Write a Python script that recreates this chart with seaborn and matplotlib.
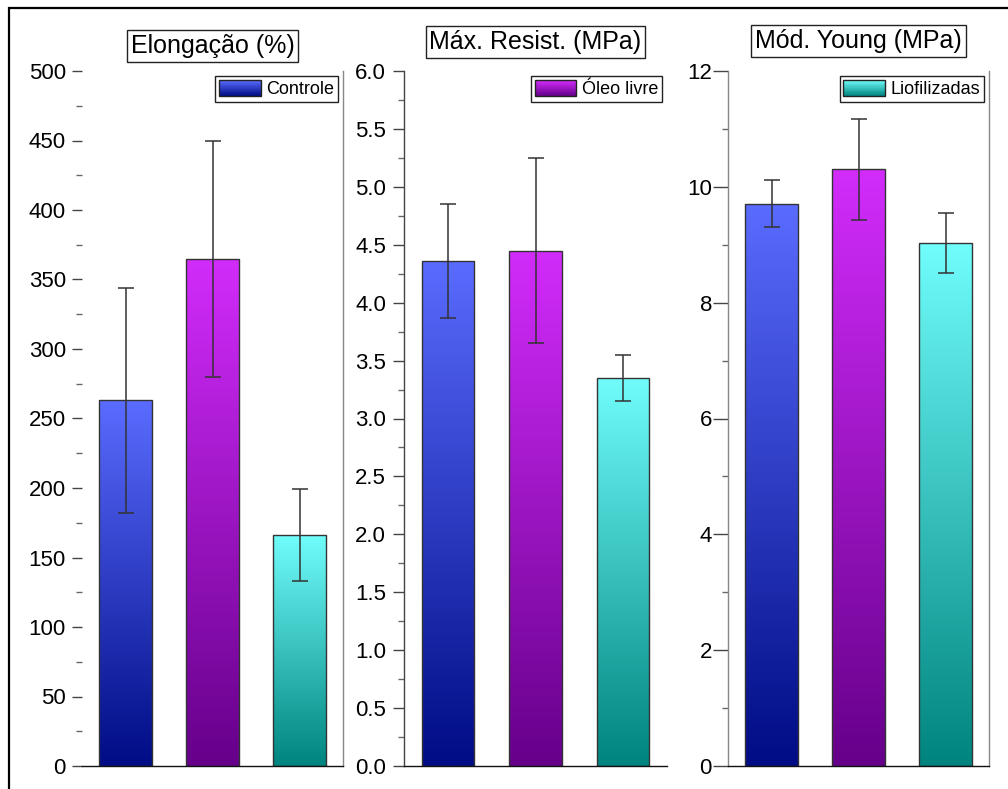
import numpy as np
import pandas as pd
import matplotlib
matplotlib.use("Agg")
import matplotlib.pyplot as plt
import seaborn as sns
from matplotlib.colors import LinearSegmentedColormap
from matplotlib.patches import Rectangle
from matplotlib.legend_handler import HandlerBase
from matplotlib.ticker import MultipleLocator, FormatStrFormatter

# ---- data ----
groups = ["Controle", "Óleo livre", "Liofilizadas"]
elong_mean = [263, 365, 166]
elong_err = [81, 85, 33]
resist_mean = [4.36, 4.45, 3.35]
resist_err = [0.49, 0.80, 0.20]
young_mean = [9.71, 10.30, 9.03]
young_err = [0.41, 0.87, 0.51]
titles = ["Elongação (%)", "Máx. Resist. (MPa)", "Mód. Young (MPa)"]
ylims = [(0, 500), (0, 6.0), (0, 12)]
major_steps = [50, 0.5, 2]
minor_steps = [25, 0.25, 1]

top_colors = ["#5a6cff", "#d22cfb", "#70fdfb"]
bottom_colors = ["#000c85", "#66008a", "#00847f"]

sns.set_style("white")
plt.rcParams["font.family"] = ["Liberation Sans", "DejaVu Sans"]
plt.rcParams["text.color"] = "black"
plt.rcParams["ytick.labelcolor"] = "black"

W, H = 1008, 789
fig = plt.figure(figsize=(W / 100, H / 100), dpi=100)

# axes geometry in pixels
ax_top, ax_bot = 71, 766
lefts = [82, 404, 728]
widths = [261, 263, 261]
title_y = [46, 42, 41]
major_len = [10, 11, 15]
label_pad = [6, 7, 1]


class GradientHandler(HandlerBase):
    def __init__(self, top, bottom, n=30):
        super().__init__()
        self.top, self.bottom, self.n = top, bottom, n

    def create_artists(self, legend, orig_handle, xdescent, ydescent,
                       width, height, fontsize, trans):
        cmap = LinearSegmentedColormap.from_list("g", [self.bottom, self.top])
        arts = []
        for i in range(self.n):
            r = Rectangle((-xdescent, -ydescent + height * i / self.n), width,
                          height / self.n * 1.05,
                          facecolor=cmap(i / (self.n - 1)), edgecolor="none",
                          transform=trans)
            arts.append(r)
        arts.append(Rectangle((-xdescent, -ydescent), width, height,
                              facecolor="none", edgecolor="#222222", lw=1,
                              transform=trans))
        return arts


means = [elong_mean, resist_mean, young_mean]
errs = [elong_err, resist_err, young_err]

for k in range(3):
    ax = fig.add_axes([lefts[k] / W, 1 - ax_bot / H, widths[k] / W,
                       (ax_bot - ax_top) / H])
    df = pd.DataFrame({"grupo": groups, "valor": means[k]})
    sns.barplot(data=df, x="grupo", y="valor", hue="grupo",
                palette=top_colors, saturation=1, width=0.6, legend=False,
                edgecolor="#333333", linewidth=1, ax=ax, errorbar=None)
    ax.set_xlim(-0.5, 2.5)
    ax.set_ylim(*ylims[k])

    # gradient fill
    for i, patch in enumerate(ax.patches):
        bb = patch.get_bbox()
        cmap = LinearSegmentedColormap.from_list(
            "g%d" % i, [bottom_colors[i], top_colors[i]])
        grad = np.linspace(0, 1, 256).reshape(-1, 1)
        im = ax.imshow(grad, extent=[bb.x0, bb.x1, bb.y0, bb.y1],
                       origin="lower", aspect="auto", cmap=cmap,
                       zorder=patch.get_zorder() + 0.01)
        im.set_clip_path(patch)
        patch.set_facecolor("none")
        patch.set_zorder(patch.get_zorder() + 0.02)
    ax.set_xlim(-0.5, 2.5)
    ax.set_ylim(*ylims[k])

    ax.errorbar(np.arange(3), means[k], yerr=errs[k], fmt="none",
                ecolor="#333333", elinewidth=1.1, capsize=5.5, capthick=1.1,
                zorder=5)

    ax.set_xlabel("")
    ax.set_ylabel("")
    ax.set_xticks([])
    ax.yaxis.set_major_locator(MultipleLocator(major_steps[k]))
    ax.yaxis.set_minor_locator(MultipleLocator(minor_steps[k]))
    ax.yaxis.set_major_formatter(FormatStrFormatter("%.1f" if k == 1 else "%d"))
    ax.tick_params(axis="y", which="major", direction="out",
                   length=major_len[k] * 0.72, width=1, color="#444444",
                   labelsize=16, labelcolor="black",
                   pad=label_pad[k] * 0.72, left=True)
    ax.tick_params(axis="y", which="minor", direction="out", length=4.5,
                   width=1, color="#666666", left=True)

    for s in ax.spines.values():
        s.set_linewidth(1)
    ax.spines["top"].set_visible(False)
    ax.spines["bottom"].set_color("#111111")
    if k == 0:
        ax.spines["left"].set_visible(False)
        ax.spines["right"].set_color("#888888")
    elif k == 1:
        ax.spines["left"].set_color("#444444")
        ax.spines["right"].set_visible(False)
    else:
        ax.spines["left"].set_color("#888888")
        ax.spines["right"].set_color("#888888")

    proxy = Rectangle((0, 0), 1, 1)
    leg = ax.legend([proxy], [groups[k]], loc="upper right",
                    handler_map={proxy: GradientHandler(top_colors[k], bottom_colors[k])},
                    fontsize=13, frameon=True, fancybox=False, framealpha=1,
                    borderpad=0.2, handlelength=2.3, handleheight=1.0,
                    handletextpad=0.3, borderaxespad=0.3)
    leg.get_frame().set_edgecolor("#222222")
    leg.get_frame().set_linewidth(1)
    for t in leg.get_texts():
        t.set_color("black")

    cx = (lefts[k] + widths[k] / 2) / W
    fig.text(cx, 1 - title_y[k] / H, titles[k], ha="center", va="center",
             fontsize=18, color="black",
             bbox=dict(boxstyle="square,pad=0.15", fc="white", ec="#222222",
                       lw=1))

# outer frame
fig.patches.append(Rectangle((9 / W, -0.2), 1.5, 1.2 - 8 / H, fill=False,
                             ec="black", lw=1.6, transform=fig.transFigure,
                             figure=fig))

fig.savefig("out.png", dpi=100)
